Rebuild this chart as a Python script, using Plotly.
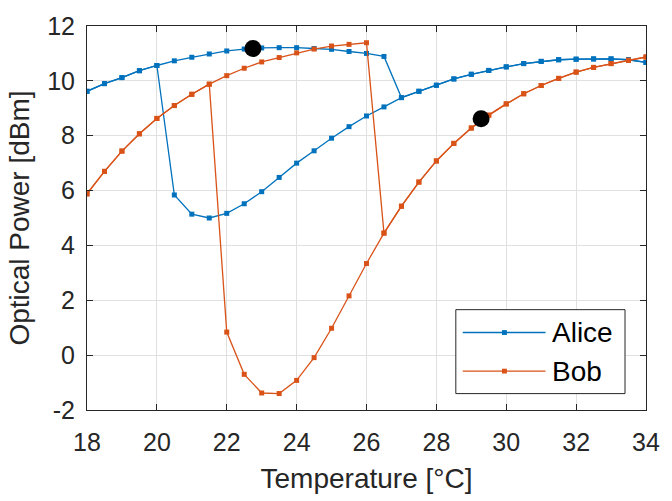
import plotly.graph_objects as go

# ---------------- data ----------------
temp_up = [18, 18.5, 19, 19.5, 20, 20.5, 21, 21.5, 22, 22.5, 23, 23.5, 24, 24.5, 25, 25.5,
           26, 26.5, 27, 27.5, 28, 28.5, 29, 29.5, 30, 30.5, 31, 31.5, 32, 32.5, 33, 33.5, 34]
temp_down = [34, 33.5, 33, 32.5, 32, 31.5, 31, 30.5, 30, 29.5, 29, 28.5, 28, 27.5, 27, 26.5,
             26, 25.5, 25, 24.5, 24, 23.5, 23, 22.5, 22, 21.5, 21, 20.5, 20, 19.5, 19, 18.5, 18]

alice_up = [9.62, 9.90, 10.12, 10.37, 10.56, 10.73, 10.86, 10.98, 11.09, 11.16, 11.20, 11.21,
            11.21, 11.18, 11.15, 11.07, 11.00, 10.89, 9.39, 9.62, 9.84, 10.07, 10.24, 10.38,
            10.51, 10.63, 10.71, 10.77, 10.79, 10.80, 10.80, 10.77, 10.67]
alice_down = [10.67, 10.77, 10.80, 10.80, 10.79, 10.77, 10.71, 10.63, 10.51, 10.38, 10.24,
              10.07, 9.84, 9.62, 9.39, 9.05, 8.72, 8.33, 7.91, 7.45, 7.00, 6.48, 5.96, 5.52,
              5.17, 5.00, 5.14, 5.84, 10.56, 10.37, 10.12, 9.90, 9.62]

bob_up = [5.88, 6.70, 7.44, 8.07, 8.63, 9.10, 9.51, 9.88, 10.19, 10.46, 10.69, 10.85, 11.02,
          11.16, 11.27, 11.33, 11.39, 4.45, 5.43, 6.31, 7.08, 7.72, 8.28, 8.75, 9.16, 9.53,
          9.83, 10.09, 10.32, 10.49, 10.63, 10.75, 10.87]
bob_down = [10.87, 10.75, 10.63, 10.49, 10.32, 10.09, 9.83, 9.53, 9.16, 8.75, 8.28, 7.72, 7.08,
            6.31, 5.43, 4.45, 3.34, 2.16, 0.98, -0.09, -0.92, -1.40, -1.38, -0.70, 0.84, 9.88,
            9.51, 9.10, 8.63, 8.07, 7.44, 6.70, 5.88]

dot_temp = [22.75, 29.28]
dot_power = [11.18, 8.62]

x_ticks = [18, 20, 22, 24, 26, 28, 30, 32, 34]
y_ticks = [-2, 0, 2, 4, 6, 8, 10, 12]

series_names = ["Alice", "Bob"]
BLUE = "#0072BD"
ORANGE = "#D95319"
TXT = "#262626"
FONT = "Liberation Sans, Arial, sans-serif"

fig = go.Figure()

def add_series(x, y, color):
    fig.add_trace(go.Scatter(
        x=x, y=y, mode="lines+markers",
        line=dict(color=color, width=1.3),
        marker=dict(symbol="square", size=5, color=color),
        showlegend=False, hoverinfo="skip"))

add_series(temp_up, alice_up, BLUE)
add_series(temp_down, alice_down, BLUE)
add_series(temp_up, bob_up, ORANGE)
add_series(temp_down, bob_down, ORANGE)

fig.add_trace(go.Scatter(
    x=dot_temp, y=dot_power, mode="markers",
    marker=dict(symbol="circle", size=17, color="black"),
    showlegend=False, hoverinfo="skip"))

# ---------------- custom legend (paper coords) ----------------
L, R, T, B = 86.6, 653.6, 15.0, 413.0
pw, ph = R - L, B - T

def px(x):
    return (x - L) / pw

def py(y):
    return (B - y) / ph

shapes = [dict(type="rect", xref="paper", yref="paper",
               x0=px(460.7), x1=px(632.3), y0=py(396), y1=py(309),
               line=dict(color=TXT, width=1), fillcolor="white", layer="above")]
annotations = []
for name, color, yy in [(series_names[0], BLUE, 332.7), (series_names[1], ORANGE, 372.7)]:
    shapes.append(dict(type="line", xref="paper", yref="paper",
                       x0=px(467.7), x1=px(551.7), y0=py(yy), y1=py(yy),
                       line=dict(color=color, width=1.3), layer="above"))
    shapes.append(dict(type="rect", xref="paper", yref="paper",
                       x0=px(507.5), x1=px(512.5), y0=py(yy + 2.5), y1=py(yy - 2.5),
                       line=dict(width=0), fillcolor=color, layer="above"))
    annotations.append(dict(xref="paper", yref="paper", x=px(556), y=py(yy),
                            xanchor="left", yanchor="middle", showarrow=False,
                            text=name, font=dict(family=FONT, size=28, color="black")))

axis_common = dict(
    showline=True, linecolor=TXT, linewidth=1, mirror="ticks",
    ticks="inside", ticklen=6, tickcolor=TXT, tickwidth=1,
    showgrid=True, gridcolor="#e0e0e0", gridwidth=1, zeroline=False,
    tickfont=dict(family=FONT, size=25, color=TXT),
)

fig.update_layout(
    width=672, height=501,
    margin=dict(l=L, r=672 - R, t=T, b=501 - B),
    paper_bgcolor="white", plot_bgcolor="white",
    xaxis=dict(range=[18, 34], tickvals=x_ticks, ticktext=[str(v) for v in x_ticks],
               title=dict(text="Temperature [°C]", font=dict(family=FONT, size=28, color=TXT),
                          standoff=13),
               ticklabelstandoff=10, **axis_common),
    yaxis=dict(range=[-2, 12], tickvals=y_ticks, ticktext=[str(v) for v in y_ticks],
               title=dict(text="Optical Power [dBm]", font=dict(family=FONT, size=28, color=TXT),
                          standoff=9),
               ticklabelstandoff=6, **axis_common),
    shapes=shapes, annotations=annotations,
    showlegend=False,
)

fig.write_html("out.html")
